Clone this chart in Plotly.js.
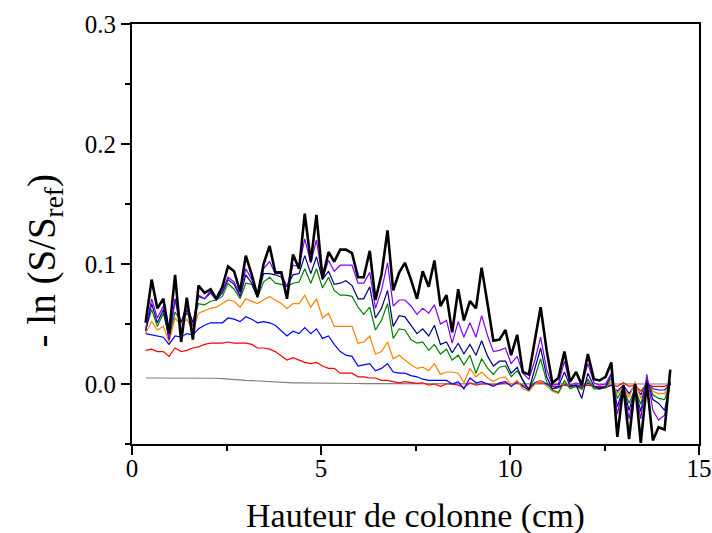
<!DOCTYPE html>
<html>
<head>
<meta charset="utf-8">
<script src="https://cdn.plot.ly/plotly-3.0.1.min.js"></script>
<style>html,body{margin:0;padding:0;background:#fff}#chart{width:712px;height:533px}</style>
</head>
<body>
<div id="chart"></div>
<script>
const xVals = [0.36,0.52,0.67,0.83,0.98,1.14,1.30,1.45,1.61,1.76,1.92,2.08,2.23,2.39,2.54,2.70,2.86,3.01,3.17,3.32,3.48,3.64,3.79,3.95,4.10,4.26,4.42,4.57,
4.73,4.88,5.04,5.20,5.35,5.51,5.66,5.82,5.98,6.13,6.29,6.44,6.60,6.76,6.91,7.07,7.22,7.38,7.54,7.69,7.85,8.00,8.16,8.32,8.47,8.63,8.78,8.94,9.10,9.25,9.41,9.56,
9.72,9.88,10.03,10.19,10.34,10.50,10.66,10.81,10.97,11.12,11.28,11.44,11.59,11.75,11.90,12.06,12.22,12.37,12.53,12.68,12.84,13.00,13.15,13.31,13.46,13.62,13.78,13.93,14.09,14.24];

const gray = [0.005,0.005,0.005,0.005,0.0048,0.005,0.005,0.005,0.005,0.0053,0.005,0.005,0.0048,0.0045,0.004,0.0035,0.003,0.003,0.0028,0.0025,0.002,0.0018,0.0015,0.0012,0.001,0.001,0.001,0.001,
0.001,0.0009,0.0008,0.0008,0.0007,0.0006,0.0005,0.0005,0.0004,0.0003,0.0003,0.0002,0.0001,0,0,0,0,0,0,0,0,0,0,0,0,0,0,0,0,0,0,0,
0,0,0,0,0,0,0,0,0,0,0,0,0,0,0,0,0,0,0,0,0,0,0,0,0,0,0,0,0,0];

const red = [0.028,0.029,0.027,0.027,0.023,0.030,0.027,0.028,0.030,0.031,0.033,0.034,0.034,0.034,0.035,0.034,0.034,0.034,0.033,0.030,0.030,0.029,0.027,0.023,0.020,0.022,0.020,0.018,
0.017,0.018,0.015,0.013,0.013,0.009,0.009,0.009,0.006,0.006,0.005,0.005,0.003,0.003,0.002,0.001,0.002,0.001,0.0005,0.001,-0.001,0.000,-0.002,0.000,0.000,-0.001,-0.003,0.001,-0.001,0.000,0.000,-0.001,
0.000,0.001,-0.001,0.001,-0.001,-0.003,0.001,0.001,0.000,-0.002,-0.002,-0.001,-0.002,-0.001,-0.002,-0.001,-0.002,-0.002,-0.002,-0.001,-0.002,0.001,-0.002,-0.001,-0.006,0.000,-0.002,-0.002,-0.002,0.000];

const blue = [0.042,0.041,0.040,0.039,0.033,0.040,0.039,0.042,0.041,0.046,0.049,0.051,0.051,0.051,0.055,0.054,0.052,0.056,0.054,0.051,0.052,0.051,0.049,0.044,0.040,0.044,0.042,0.047,
0.042,0.046,0.038,0.040,0.033,0.027,0.024,0.023,0.015,0.016,0.017,0.011,0.013,0.017,0.010,0.009,0.009,0.007,0.006,0.004,0.003,0.003,0.003,0.003,0.000,0.002,-0.004,0.005,0.001,0.002,0.000,-0.002,
0.001,0.002,-0.002,0.002,-0.002,-0.005,0.001,0.003,0.000,-0.004,-0.003,0.000,-0.002,-0.001,-0.003,0.001,-0.002,-0.003,-0.003,-0.001,-0.006,-0.001,-0.008,-0.001,-0.009,0.001,-0.004,-0.005,-0.005,0.000];

const orange = [0.042,0.052,0.045,0.048,0.035,0.055,0.049,0.054,0.045,0.059,0.061,0.063,0.064,0.067,0.070,0.069,0.064,0.071,0.069,0.067,0.070,0.073,0.070,0.067,0.063,0.067,0.067,0.074,
0.064,0.071,0.055,0.059,0.048,0.048,0.048,0.048,0.034,0.035,0.040,0.025,0.027,0.035,0.021,0.024,0.020,0.016,0.013,0.014,0.011,0.017,0.008,0.010,0.010,0.009,0.001,0.013,0.006,0.010,0.005,0.002,
0.005,0.006,-0.001,0.003,-0.004,-0.006,0.000,0.003,-0.002,-0.006,-0.008,0.001,-0.003,-0.002,-0.005,0.003,-0.003,-0.004,-0.003,0.002,-0.008,-0.002,-0.011,0.002,-0.012,0.002,-0.006,-0.008,-0.008,0.000];

const green = [0.045,0.062,0.048,0.059,0.039,0.060,0.052,0.059,0.052,0.067,0.066,0.069,0.070,0.073,0.084,0.079,0.071,0.084,0.083,0.072,0.085,0.089,0.084,0.083,0.081,0.084,0.085,0.096,
0.084,0.096,0.080,0.089,0.078,0.074,0.074,0.073,0.064,0.058,0.064,0.045,0.053,0.067,0.038,0.046,0.045,0.037,0.034,0.035,0.028,0.033,0.025,0.029,0.020,0.024,0.016,0.024,0.009,0.021,0.013,0.008,
0.014,0.015,0.006,0.011,0.003,-0.005,0.006,0.021,0.002,-0.005,-0.007,0.003,-0.004,-0.002,-0.004,0.004,-0.004,-0.004,-0.003,0.005,-0.012,-0.003,-0.016,-0.004,-0.017,0.004,-0.009,-0.012,-0.013,0.001];

const navy = [0.044,0.067,0.051,0.062,0.037,0.071,0.051,0.067,0.051,0.073,0.071,0.076,0.070,0.076,0.087,0.083,0.073,0.091,0.084,0.072,0.092,0.092,0.091,0.089,0.081,0.091,0.092,0.107,
0.092,0.106,0.087,0.094,0.083,0.084,0.086,0.082,0.071,0.071,0.081,0.055,0.063,0.078,0.048,0.057,0.056,0.049,0.042,0.046,0.040,0.049,0.033,0.035,0.026,0.034,0.025,0.033,0.024,0.036,0.023,0.015,
0.019,0.019,0.009,0.014,0.003,-0.005,0.013,0.030,0.006,-0.004,-0.002,0.010,-0.002,-0.001,-0.012,0.009,-0.002,-0.004,-0.002,0.008,-0.019,-0.003,-0.022,-0.004,-0.023,0.004,-0.013,-0.016,-0.022,0.001];

const purple = [0.046,0.071,0.055,0.065,0.038,0.070,0.044,0.062,0.048,0.074,0.071,0.078,0.070,0.078,0.089,0.085,0.074,0.096,0.087,0.073,0.096,0.102,0.092,0.092,0.081,0.099,0.098,0.121,
0.101,0.120,0.088,0.103,0.094,0.099,0.099,0.099,0.084,0.084,0.093,0.063,0.078,0.101,0.065,0.070,0.070,0.065,0.058,0.063,0.059,0.066,0.050,0.053,0.034,0.052,0.039,0.051,0.039,0.057,0.040,0.027,
0.028,0.030,0.017,0.023,0.009,0.004,0.020,0.039,0.012,-0.001,0.000,0.019,-0.001,0.001,-0.001,0.017,0.001,-0.001,0.000,0.009,-0.025,-0.002,-0.029,-0.003,-0.029,0.008,-0.022,-0.030,-0.026,0.002];

const black = [0.051,0.087,0.063,0.071,0.042,0.091,0.035,0.072,0.037,0.082,0.076,0.079,0.071,0.081,0.098,0.094,0.077,0.107,0.091,0.073,0.100,0.115,0.093,0.093,0.071,0.108,0.096,0.142,
0.102,0.141,0.088,0.110,0.102,0.112,0.112,0.109,0.089,0.089,0.111,0.070,0.091,0.128,0.078,0.093,0.101,0.087,0.071,0.094,0.081,0.103,0.065,0.074,0.043,0.079,0.053,0.069,0.063,0.097,0.066,0.036,
0.037,0.045,0.024,0.041,0.010,0.008,0.037,0.064,0.028,0.001,0.005,0.027,0.002,0.010,-0.001,0.025,0.004,0.003,0.006,0.018,-0.044,-0.001,-0.046,0.000,-0.049,0.001,-0.047,-0.036,-0.038,0.012];

const xTickStep = 5;
const yTickStep = 0.1;
const yTickFormat = '.1f';

const seriesList = [gray, red, blue, orange, green, navy, purple, black];
const seriesColors = ['#808080','#ff0000','#0000ff','#ff8000','#008000','#000080','#8000ff','#000000'];
const seriesWidths = [1.2,1.2,1.2,1.2,1.2,1.2,1.2,2.6];

const traces = seriesList.map((ys, k) => ({
  x: xVals, y: ys, type: 'scatter', mode: 'lines',
  line: {color: seriesColors[k], width: seriesWidths[k]},
  showlegend: false, hoverinfo: 'skip'
}));

const fontFam = 'Liberation Serif';
const layout = {
  width: 712, height: 533,
  margin: {l: 132, r: 13, t: 24, b: 89},
  paper_bgcolor: '#fff', plot_bgcolor: '#fff',
  font: {family: fontFam, color: '#000', size: 25},
  xaxis: {
    range: [0, 15], tick0: 0, dtick: xTickStep,
    showgrid: false, zeroline: false,
    showline: true, mirror: true, linecolor: '#000', linewidth: 2,
    ticks: 'outside', ticklen: 9, tickwidth: 2, tickcolor: '#000',
    ticklabelstandoff: -8,
    minor: {dtick: 2.5, ticks: 'outside', ticklen: 5, tickwidth: 2, tickcolor: '#000', showgrid: false},
    tickfont: {family: fontFam, size: 25, color: '#000'}
  },
  yaxis: {
    range: [-0.05, 0.3], tick0: 0, dtick: yTickStep, tickformat: yTickFormat,
    showgrid: false, zeroline: false,
    showline: true, mirror: true, linecolor: '#000', linewidth: 2,
    ticks: 'outside', ticklen: 9, tickwidth: 2, tickcolor: '#000',
    minor: {dtick: 0.05, ticks: 'outside', ticklen: 5, tickwidth: 2, tickcolor: '#000', showgrid: false},
    tickfont: {family: fontFam, size: 25, color: '#000'}
  },
  annotations: [
    {text: 'Hauteur de colonne (cm)', xref: 'paper', yref: 'paper', x: 0.5, y: -0.172,
     xanchor: 'center', yanchor: 'middle', showarrow: false,
     font: {family: fontFam, size: 34, color: '#000'}},
    {text: '- ln (S/S<sub>ref</sub>)', xref: 'paper', yref: 'paper', x: -0.155, y: 0.435,
     xanchor: 'center', yanchor: 'middle', textangle: -90, showarrow: false,
     font: {family: fontFam, size: 39, color: '#000'}}
  ]
};

Plotly.newPlot('chart', traces, layout, {displayModeBar: false});
</script>
</body>
</html>
